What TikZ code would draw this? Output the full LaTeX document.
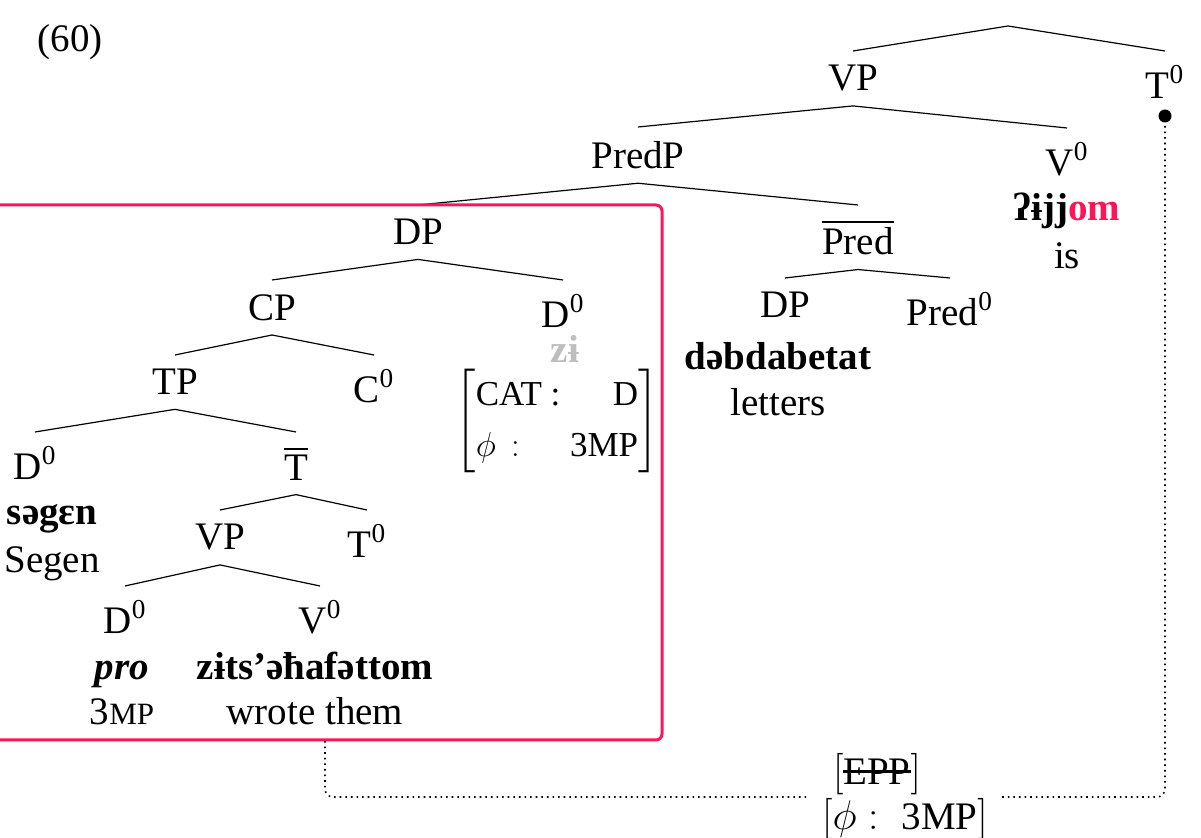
\documentclass[tikz,border=0pt]{standalone}
\usepackage{amsmath}
\usepackage{fontspec}
\setmainfont{Liberation Serif}
\definecolor{hl}{HTML}{FF1458}
\definecolor{ghost}{HTML}{BEBEBE}
\newcommand\fsc[1]{{\fontsize{15.5}{15.5}\selectfont #1}}
\newcommand\strk[1]{{\setbox0\hbox{#1}\rlap{\rule[0.3em]{\wd0}{1.6pt}}\box0}}
\begin{document}
\begin{tikzpicture}[x=0.5pt,y=-0.5pt,
  font=\fontsize{19.5}{23.5}\selectfont,
  tn/.style={anchor=north, inner xsep=1pt, inner ysep=7pt},
  wd/.style={anchor=base, inner sep=0pt},
  br/.style={line width=0.6pt},
  conn/.style={dotted, line width=0.8pt, rounded corners=4pt},
  hlbox/.style={draw=hl, line width=1.5pt, rounded corners=3pt}]
\useasboundingbox (0,0) rectangle (1201,838);

\node[wd] (ex) at (70,52) {(60)};

\coordinate (r) at (1008,26);
\node[tn] (vp1) at (853,51) {VP};
\node[tn] (t1) at (1165,51) {T\textsuperscript{0}};
\node[tn] (predp) at (638,127) {PredP};
\node[tn] (v1) at (1067,128) {V\textsuperscript{0}};
\node[wd] (w1) at (1067,221) {\textbf{ʔɨjj\textcolor{hl}{om}}};
\node[wd] (g1) at (1067,269) {is};

\node[tn] (dp1) at (418,205) {DP};
\node[tn] (pbar) at (858,205) {$\overline{\mbox{Pred}}$};

\node[tn] (cp) at (272,280) {CP};
\node[tn] (d1) at (563,280) {D\textsuperscript{0}};
\node[wd, text=ghost] (w2) at (565,363) {\textbf{zɨ}};
\node[font=\fontsize{17.5}{23.5}\selectfont] (avm) at (557,421) {\renewcommand{\arraystretch}{1.08}$\left[\begin{array}{@{}l@{\;}r@{}}\text{CAT :} & \text{D}\\ \phi\,: & \text{3MP}\end{array}\right]$};

\node[tn] (tp) at (175,355) {TP};
\node[tn] (c0) at (374,355) {C\textsuperscript{0}};

\node[tn] (d2) at (35,432) {D\textsuperscript{0}};
\node[wd] (w3) at (52,525) {\textbf{səgɛn}};
\node[wd] (g3) at (52,573) {Segen};
\node[tn] (tbar) at (296,432) {$\overline{\mbox{T}}$};

\node[tn] (vp2) at (220,510) {VP};
\node[tn] (t2) at (367,510) {T\textsuperscript{0}};

\node[tn] (d3) at (125,586) {D\textsuperscript{0}};
\node[tn] (v2) at (320,586) {V\textsuperscript{0}};
\node[wd] (w4) at (122,680) {\textbf{\textit{pro}}};
\node[wd] (g4) at (122,725) {3\fsc{MP}};
\node[wd] (w5) at (315,680) {\textbf{zɨts’əħafəttom}};
\node[wd] (g5) at (315,725) {wrote them};

\node[tn] (dp3) at (785,278) {DP};
\node[tn] (pred0) at (950,278) {Pred\textsuperscript{0}};
\node[wd] (w6) at (778,370) {\textbf{dəbdabetat}};
\node[wd] (g6) at (778,416) {letters};

\draw[br] (r) -- (vp1.north);
\draw[br] (r) -- (t1.north);
\draw[br] (vp1.south) -- (predp.north);
\draw[br] (vp1.south) -- (v1.north);
\draw[br] (predp.south) -- (dp1.north);
\draw[br] (predp.south) -- (pbar.north);
\draw[br] (dp1.south) -- (cp.north);
\draw[br] (dp1.south) -- (d1.north);
\draw[br] (cp.south) -- (tp.north);
\draw[br] (cp.south) -- (c0.north);
\draw[br] (tp.south) -- (d2.north);
\draw[br] (tp.south) -- (tbar.north);
\draw[br] (tbar.south) -- (vp2.north);
\draw[br] (tbar.south) -- (t2.north);
\draw[br] (vp2.south) -- (d3.north);
\draw[br] (vp2.south) -- (v2.north);
\draw[br] (pbar.south) -- (dp3.north);
\draw[br] (pbar.south) -- (pred0.north);

\draw[hlbox] (-10,205) rectangle (662,740);
\coordinate (bx) at (325,741);

\node[circle, fill, inner sep=0pt, minimum size=6.5pt] (dot) at (1165,116) {};
\node[align=center, inner xsep=7pt, inner ysep=0pt] (feat) at (905,797)
  {\hspace*{-28pt}$[\text{\strk{EPP}}]$\\[-1pt] $[\phi:\;\text{3MP}]$};

\draw[conn] (bx) |- (feat.west);
\draw[conn] (feat.east) -| (dot);
\end{tikzpicture}
\end{document}
